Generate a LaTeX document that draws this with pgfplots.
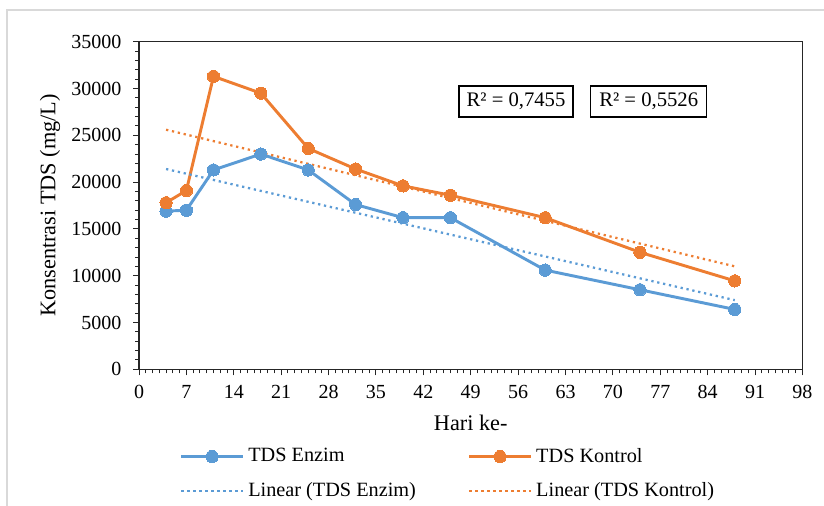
\documentclass[border=0pt]{standalone}
\usepackage{fontspec}
\setmainfont{Liberation Serif}
\usepackage{pgfplots}
\pgfplotsset{compat=1.18}
\definecolor{cblue}{HTML}{5B9BD5}
\definecolor{corange}{HTML}{ED7D31}
\begin{document}
\fontsize{15}{18}\selectfont
\begin{tikzpicture}[x=0.75pt,y=0.75pt]
\useasboundingbox (0,0) rectangle (824,506);
\draw[black!15, line width=1pt] (7,0) -- (7,496) -- (824,496);
\begin{axis}[
  at={(104.25pt,102.5pt)}, anchor=south west, scale only axis,
  width=497.6pt, height=245.7pt,
  xmin=0, xmax=98, ymin=0, ymax=35000,
  xtick={0,7,...,98}, minor x tick num=6,
  ytick={0,5000,...,35000}, minor y tick num=4,
  tick align=outside, tick pos=left,
  major tick length=4.5pt, minor tick length=3pt,
  axis line style={black!85, line width=0.9pt},
  every tick/.style={black!85, line width=0.75pt},
  scaled y ticks=false,
  /pgf/number format/1000 sep={},
  /pgf/number format/assume math mode=true,
  tick label style={font=\fontsize{15}{18}\selectfont},
  xticklabel style={yshift=-2.5pt},
  yticklabel style={xshift=-3.5pt},
  xlabel={Hari ke-}, ylabel={Konsentrasi TDS (mg/L)},
  label style={font=\fontsize{16.7}{20}\selectfont},
  xlabel style={at={(axis description cs:0.5,-0.165)}, anchor=center},
  ylabel style={at={(axis description cs:-0.134,0.5)}, anchor=center},
  legend columns=2,
  legend cell align=left,
  legend style={at={(axis description cs:0.0618,-0.228)}, anchor=north west,
    draw=none, fill=none, inner sep=0pt, outer sep=0pt, row sep=7pt,
    font=\fontsize{15.2}{18}\selectfont,
    nodes={inner sep=3pt},
    /tikz/every even column/.append style={column sep=36pt}},
  legend image code/.code={\draw[mark repeat=2,mark phase=2]
    plot coordinates {(0pt,0pt) (23pt,0pt) (46pt,0pt)};},
]
\addplot[cblue, line width=2.2pt, mark=*, mark size=4.6pt, mark options={solid, fill=cblue, draw=cblue, line width=0pt}]
  coordinates {(4,16900) (7,17000) (11,21300) (18,23000) (25,21300) (32,17600) (39,16200) (46,16200) (60,10600) (74,8500) (88,6400)};
\addlegendentry{TDS Enzim}
\addplot[corange, line width=2.2pt, mark=*, mark size=4.6pt, mark options={solid, fill=corange, draw=corange, line width=0pt}]
  coordinates {(4,17800) (7,19100) (11,31300) (18,29500) (25,23600) (32,21400) (39,19600) (46,18600) (60,16200) (74,12500) (88,9450)};
\addlegendentry{TDS Kontrol}
\addplot[cblue, line width=1.7pt, dash pattern=on 1.7pt off 2.8pt]
  coordinates {(4,21400) (88,7390)};
\addlegendentry{Linear (TDS Enzim)}
\addplot[corange, line width=1.7pt, dash pattern=on 1.7pt off 2.8pt]
  coordinates {(4,25600) (88,11000)};
\addlegendentry{Linear (TDS Kontrol)}
\end{axis}
\node[draw=black, line width=1.1pt, fill=white, minimum width=85.5pt, minimum height=23.3pt, inner sep=0pt, font=\fontsize{15.5}{18}\selectfont] at (516,404.5) {R² = 0,7455};
\node[draw=black, line width=1.1pt, fill=white, minimum width=87pt, minimum height=23.3pt, inner sep=0pt, font=\fontsize{15.5}{18}\selectfont] at (648.7,404.5) {R² = 0,5526};
\end{tikzpicture}
\end{document}
